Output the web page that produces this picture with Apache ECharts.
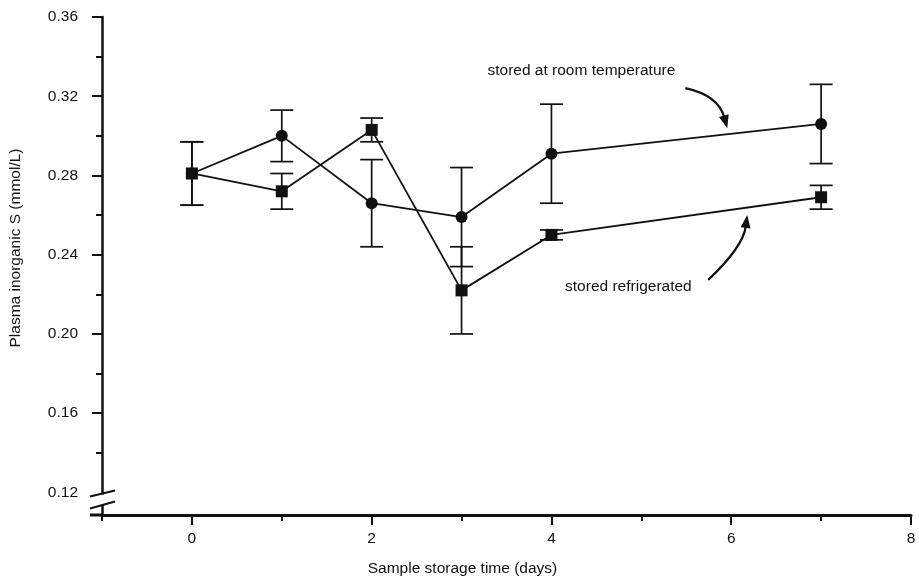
<!DOCTYPE html>
<html>
<head>
<meta charset="utf-8">
<script src="https://cdn.jsdelivr.net/npm/echarts@6/dist/echarts.min.js"></script>
<style>
  html, body { margin: 0; padding: 0; background: #fff; }
  #chart { width: 919px; height: 584px; }
</style>
</head>
<body>
<div id="chart"></div>
<script>
// Sampling days and mean plasma inorganic sulfate with error half-widths
const days = [0, 1, 2, 3, 4, 7];
const roomTemp = [0.281, 0.300, 0.266, 0.259, 0.291, 0.306];
const roomTempErr = [0.016, 0.013, 0.022, 0.025, 0.025, 0.020];
const refrigerated = [0.281, 0.272, 0.303, 0.222, 0.250, 0.269];
const refrigeratedErr = [0.016, 0.009, 0.006, 0.022, 0.0025, 0.006];

// Tick and label positions
const yLabelValues = [0.12, 0.16, 0.20, 0.24, 0.28, 0.32, 0.36];
const yMajorTicks = [0.16, 0.20, 0.24, 0.28, 0.32, 0.36];
const yMinorTicks = [0.14, 0.18, 0.22, 0.26, 0.30, 0.34];
const xLabelValues = [0, 2, 4, 6, 8];
const xMinorTicks = [-1, 1, 3, 5, 7];

// Annotation texts (anchored in data space)
const roomLabel = { text: 'stored at room temperature', at: [4.333, 0.3331] };
const fridgeLabel = { text: 'stored refrigerated', at: [4.856, 0.2238] };
// Curved pointer arrows: start, control point, tip (data space)
const roomArrow = { start: [5.489, 0.3241], ctrl: [5.856, 0.3205], tip: [5.956, 0.3039] };
const fridgeArrow = { start: [5.744, 0.2273], ctrl: [6.133, 0.2439], tip: [6.178, 0.2600] };

const Y_MIN = 0.1086, Y_MAX = 0.36;
const FONT = 'Liberation Sans, Arial, Helvetica, sans-serif';
const INK = '#111';

const chart = echarts.init(document.getElementById('chart'), null, { renderer: 'canvas' });

function pairs(ys) { return days.map((d, i) => [d, ys[i]]); }
function errData(ys, es) { return days.map((d, i) => [d, ys[i] - es[i], ys[i] + es[i]]); }

function errorBars(api) {
  const x = api.value(0);
  const lo = api.coord([x, api.value(1)]);
  const hi = api.coord([x, api.value(2)]);
  const w = 11.5;
  const style = { stroke: INK, lineWidth: 1.7 };
  return {
    type: 'group',
    children: [
      { type: 'line', shape: { x1: lo[0], y1: lo[1], x2: hi[0], y2: hi[1] }, style },
      { type: 'line', shape: { x1: hi[0] - w, y1: hi[1], x2: hi[0] + w, y2: hi[1] }, style },
      { type: 'line', shape: { x1: lo[0] - w, y1: lo[1], x2: lo[0] + w, y2: lo[1] }, style }
    ]
  };
}

const labelStyle = { color: INK, fontFamily: FONT, fontSize: 15.5 };

chart.setOption({
  animation: false,
  backgroundColor: '#fff',
  grid: { left: 100, right: 8, top: 17, bottom: 69, containLabel: false },
  xAxis: [
    {
      type: 'value', min: -1, max: 8, interval: 1,
      axisLine: { show: true, onZero: false, lineStyle: { color: INK, width: 3 } },
      axisTick: { show: true, customValues: xLabelValues, length: 10, lineStyle: { color: INK, width: 2 } },
      axisLabel: Object.assign({ customValues: xLabelValues, margin: 16 }, labelStyle),
      splitLine: { show: false },
      name: 'Sample storage time (days)',
      nameLocation: 'middle',
      nameGap: 46,
      nameTextStyle: Object.assign({ padding: [0, 88, 0, 0] }, labelStyle)
    },
    {
      type: 'value', min: -1, max: 8, interval: 1, position: 'bottom',
      axisLine: { show: false, onZero: false },
      axisTick: { show: true, customValues: xMinorTicks, length: 6, lineStyle: { color: INK, width: 2 } },
      axisLabel: { show: false },
      splitLine: { show: false }
    }
  ],
  yAxis: [
    {
      type: 'value', min: Y_MIN, max: Y_MAX,
      axisLine: { show: true, onZero: false, lineStyle: { color: INK, width: 2.5 } },
      axisTick: { show: true, customValues: yMajorTicks, length: 10, lineStyle: { color: INK, width: 2 } },
      axisLabel: Object.assign({
        customValues: yLabelValues, margin: 24,
        formatter: v => v.toFixed(2)
      }, labelStyle),
      splitLine: { show: false },
      name: 'Plasma inorganic S (mmol/L)',
      nameLocation: 'middle',
      nameGap: 78,
      nameTextStyle: Object.assign({ padding: [0, 0, 0, 36] }, labelStyle)
    },
    {
      type: 'value', min: Y_MIN, max: Y_MAX, position: 'left',
      axisLine: { show: false, onZero: false },
      axisTick: { show: true, customValues: yMinorTicks, length: 6, lineStyle: { color: INK, width: 2 } },
      axisLabel: { show: false },
      splitLine: { show: false }
    }
  ],
  series: [
    {
      name: 'room temperature', type: 'line', data: pairs(roomTemp),
      symbol: 'circle', symbolSize: 12, z: 4,
      itemStyle: { color: INK },
      lineStyle: { color: INK, width: 1.8 }
    },
    {
      name: 'refrigerated', type: 'line', data: pairs(refrigerated),
      symbol: 'rect', symbolSize: 12, z: 4,
      itemStyle: { color: INK },
      lineStyle: { color: INK, width: 1.8 }
    },
    { type: 'custom', data: errData(roomTemp, roomTempErr), renderItem: (p, api) => errorBars(api), z: 3 },
    { type: 'custom', data: errData(refrigerated, refrigeratedErr), renderItem: (p, api) => errorBars(api), z: 3 }
  ]
});

// Decorations: axis break, x-axis stub left of the y axis, annotations and arrows
function px(pt) { return chart.convertToPixel({ seriesIndex: 0 }, pt); }

function arrowGraphics(a) {
  const s = px(a.start), c = px(a.ctrl), t = px(a.tip);
  let dx = t[0] - c[0], dy = t[1] - c[1];
  const len = Math.hypot(dx, dy); dx /= len; dy /= len;
  const headLen = 13, headHalf = 5;
  const base = [t[0] - dx * headLen, t[1] - dy * headLen];
  const nx = -dy, ny = dx;
  return [
    { type: 'bezierCurve', shape: { x1: s[0], y1: s[1], cpx1: c[0], cpy1: c[1], x2: base[0] + dx * 2, y2: base[1] + dy * 2 },
      style: { stroke: INK, lineWidth: 2.2, fill: null }, z: 10 },
    { type: 'polygon', shape: { points: [t, [base[0] + nx * headHalf, base[1] + ny * headHalf], [base[0] - nx * headHalf, base[1] - ny * headHalf]] },
      style: { fill: INK }, z: 10 }
  ];
}

function textGraphic(l) {
  const p = px(l.at);
  return { type: 'text', x: p[0], y: p[1], z: 10,
    style: { text: l.text, fill: INK, font: '15.5px ' + FONT, align: 'center', verticalAlign: 'middle' } };
}

const origin = px([-1, Y_MIN]);
const brk = px([-1, 0.1164]);
const ax = origin[0];

chart.setOption({
  graphic: [
    // x-axis line continues a little past the y axis
    { type: 'line', shape: { x1: ax - 12, y1: origin[1], x2: ax, y2: origin[1] }, style: { stroke: INK, lineWidth: 3 }, z: 10 },
    // gap in the y axis for the scale break
    { type: 'rect', shape: { x: ax - 3, y: brk[1] - 5, width: 6, height: 10 }, style: { fill: '#fff' }, z: 10 },
    { type: 'line', shape: { x1: ax - 12, y1: brk[1] - 3, x2: ax + 13, y2: brk[1] - 9 }, style: { stroke: INK, lineWidth: 2.2 }, z: 11 },
    { type: 'line', shape: { x1: ax - 12, y1: brk[1] + 9, x2: ax + 13, y2: brk[1] + 2 }, style: { stroke: INK, lineWidth: 2.2 }, z: 11 },
    textGraphic(roomLabel),
    textGraphic(fridgeLabel)
  ].concat(arrowGraphics(roomArrow), arrowGraphics(fridgeArrow))
});
</script>
</body>
</html>
